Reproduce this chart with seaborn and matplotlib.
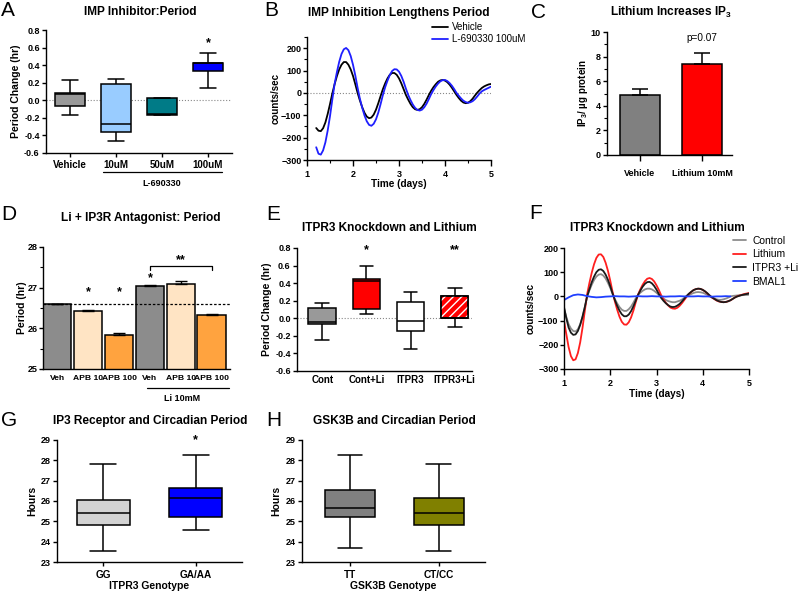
import numpy as np
import pandas as pd
import matplotlib
matplotlib.use('Agg')
import matplotlib.pyplot as plt
from matplotlib.patches import PathPatch
from matplotlib.ticker import MultipleLocator, FormatStrFormatter
import seaborn as sns

# ---------------- data ----------------
# A: IMP inhibitor, period change box plots (whisker low, Q1, median, Q3, whisker high)
a_groups = ['Vehicle', '10uM', '50uM', '100uM']
a_lo = [-0.17, -0.46, -0.17, 0.14]
a_q1 = [-0.07, -0.36, -0.17, 0.33]
a_med = [0.07, -0.27, -0.16, 0.42]
a_q3 = [0.08, 0.19, 0.03, 0.43]
a_hi = [0.23, 0.24, 0.03, 0.54]
a_colors = ['#999999', '#99ccff', '#007b87', '#0000ff']

# B: bioluminescence traces
b_time = [1.20, 1.25, 1.30, 1.35, 1.40, 1.45, 1.50, 1.55, 1.60, 1.65,
          1.70, 1.75, 1.80, 1.85, 1.90, 1.95, 2.00, 2.05, 2.10, 2.15,
          2.20, 2.25, 2.30, 2.35, 2.40, 2.45, 2.50, 2.55, 2.60, 2.65,
          2.70, 2.75, 2.80, 2.85, 2.90, 2.95, 3.00, 3.05, 3.10, 3.15,
          3.20, 3.25, 3.30, 3.35, 3.40, 3.45, 3.50, 3.55, 3.60, 3.65,
          3.70, 3.75, 3.80, 3.85, 3.90, 3.95, 4.00, 4.05, 4.10, 4.15,
          4.20, 4.25, 4.30, 4.35, 4.40, 4.45, 4.50, 4.55, 4.60, 4.65,
          4.70, 4.75, 4.80, 4.85, 4.90, 4.95, 5.00]
b_vehicle = [-157, -169, -171, -158, -132, -94, -50, -3, 39, 75,
             105, 126, 138, 138, 126, 105, 76, 39, 0, -34,
             -64, -89, -106, -113, -110, -97, -75, -46, -14, 17,
             43, 65, 81, 89, 89, 81, 65, 43, 17, -9,
             -30, -49, -64, -73, -76, -73, -64, -49, -30, -9,
             10, 26, 39, 50, 56, 58, 55, 48, 37, 23,
             7, -9, -23, -35, -43, -46, -44, -37, -26, -12,
             1, 12, 22, 29, 34, 38, 40]
b_l690330 = [-243, -272, -276, -257, -221, -168, -104, -30, 40, 93,
             139, 174, 195, 201, 191, 165, 126, 78, 23, -26,
             -66, -101, -127, -143, -147, -138, -118, -88, -50, -9,
             26, 55, 80, 98, 106, 105, 95, 76, 50, 19,
             -9, -32, -52, -67, -76, -79, -75, -64, -48, -27,
             -5, 13, 29, 42, 52, 57, 58, 53, 44, 32,
             17, 0, -13, -25, -35, -41, -44, -42, -37, -28,
             -16, -3, 7, 13, 18, 23, 28]

# C: IP3 levels
c_groups = ['Vehicle', 'Lithium 10mM']
c_vals = [4.84, 7.39]
c_err = [0.51, 0.90]
c_colors = ['#808080', '#ff0000']

# D: Li + IP3R antagonist, period
d_groups = ['Veh', 'APB 10', 'APB 100', 'Li Veh', 'Li APB 10', 'Li APB 100']
d_ticklabels = ['Veh', 'APB 10', 'APB 100', 'Veh', 'APB 10', 'APB 100']
d_vals = [26.60, 26.43, 25.83, 27.03, 27.10, 26.33]
d_err = [0.0, 0.03, 0.06, 0.03, 0.06, 0.03]
d_colors = ['#8c8c8c', '#ffe4c4', '#ffa33f', '#8c8c8c', '#ffe4c4', '#ffa33f']
d_baseline = 26.6

# E: ITPR3 knockdown and lithium, period change
e_groups = ['Cont', 'Cont+Li', 'ITPR3', 'ITPR3+Li']
e_lo = [-0.25, 0.05, -0.35, -0.10]
e_q1 = [-0.07, 0.10, -0.15, 0.00]
e_med = [-0.04, 0.42, -0.03, 0.005]
e_q3 = [0.12, 0.45, 0.18, 0.25]
e_hi = [0.17, 0.60, 0.30, 0.35]
e_colors = ['#999999', '#ff0000', '#ffffff', '#ff0000']

# F: traces
f_time = [1.00, 1.05, 1.10, 1.15, 1.20, 1.25, 1.30, 1.35, 1.40, 1.45,
          1.50, 1.55, 1.60, 1.65, 1.70, 1.75, 1.80, 1.85, 1.90, 1.95,
          2.00, 2.05, 2.10, 2.15, 2.20, 2.25, 2.30, 2.35, 2.40, 2.45,
          2.50, 2.55, 2.60, 2.65, 2.70, 2.75, 2.80, 2.85, 2.90, 2.95,
          3.00, 3.05, 3.10, 3.15, 3.20, 3.25, 3.30, 3.35, 3.40, 3.45,
          3.50, 3.55, 3.60, 3.65, 3.70, 3.75, 3.80, 3.85, 3.90, 3.95,
          4.00, 4.05, 4.10, 4.15, 4.20, 4.25, 4.30, 4.35, 4.40, 4.45,
          4.50, 4.55, 4.60, 4.65, 4.70, 4.75, 4.80, 4.85, 4.90, 4.95,
          5.00]
f_control = [-50, -85, -115, -133, -143, -145, -136, -115, -85, -45,
             0, 25, 48, 68, 82, 90, 92, 86, 74, 56,
             35, 10, -11, -29, -44, -55, -60, -60, -53, -42,
             -26, -8, 6, 15, 23, 29, 32, 32, 29, 23,
             15, 6, -3, -9, -15, -19, -22, -24, -24, -21,
             -18, -13, -6, 0, 5, 10, 14, 17, 18, 17,
             15, 11, 6, 1, -4, -8, -12, -14, -14, -12,
             -9, -5, 0, 2, 3, 4, 5, 5, 6, 6,
             7]
f_lithium = [-100, -156, -210, -247, -264, -260, -234, -190, -130, -60,
             9, 56, 98, 133, 159, 173, 174, 163, 139, 106,
             65, 19, -21, -55, -84, -105, -116, -117, -107, -87,
             -59, -25, 7, 29, 48, 63, 73, 76, 72, 62,
             46, 27, 5, -12, -26, -37, -46, -50, -51, -47,
             -39, -28, -15, -2, 10, 18, 26, 30, 32, 31,
             27, 20, 12, 2, -5, -11, -17, -21, -23, -24,
             -23, -20, -16, -10, -4, 1, 4, 7, 10, 12,
             14]
f_itpr3_li = [-44, -90, -129, -150, -159, -157, -143, -118, -84, -44,
              0, 30, 59, 82, 100, 110, 112, 105, 90, 69,
              42, 12, -15, -39, -59, -74, -82, -82, -75, -61,
              -41, -18, 6, 24, 40, 52, 59, 60, 54, 43,
              28, 10, -6, -18, -28, -36, -42, -44, -43, -38,
              -31, -21, -10, 2, 11, 19, 26, 30, 32, 31,
              27, 21, 13, 4, -4, -10, -16, -20, -23, -24,
              -23, -20, -16, -10, -4, 0, 3, 6, 8, 10,
              12]
f_bmal_time = [1.0, 1.1, 1.2, 1.3, 1.4, 1.5, 1.6, 1.7, 1.8, 1.9, 2.0, 2.1, 2.2,
               2.3, 2.4, 2.5, 2.6, 2.7, 2.8, 2.9, 3.0, 3.1, 3.2, 3.3, 3.4, 3.5,
               3.6, 3.7, 3.8, 3.9, 4.0, 4.1, 4.2, 4.3, 4.4, 4.5, 4.6]
f_bmal1 = [-15, -4, 5, 8, 6, 1, -2, -4, -3, -1, 0, 1, 0,
           0, -1, 0, 1, 0, 0, 1, 0, 0, -1, 0, 0, 1,
           0, 0, 0, 1, 0, 0, -1, 0, 0, 1, 0]

# G: ITPR3 genotype
g_groups = ['GG', 'GA/AA']
g_lo = [23.55, 24.55]
g_q1 = [24.80, 25.20]
g_med = [25.40, 26.15]
g_q3 = [26.07, 26.62]
g_hi = [27.80, 28.25]
g_colors = ['#d3d3d3', '#0000ff']

# H: GSK3B genotype
h_groups = ['TT', 'CT/CC']
h_lo = [23.70, 23.55]
h_q1 = [25.22, 24.82]
h_med = [25.65, 25.41]
h_q3 = [26.55, 26.15]
h_hi = [28.25, 27.82]
h_colors = ['#808080', '#808000']

# ---------------- style ----------------
sns.set_style('ticks')
plt.rcParams['font.family'] = ['Liberation Sans', 'DejaVu Sans']
plt.rcParams['font.weight'] = 'bold'
plt.rcParams['axes.labelweight'] = 'bold'
plt.rcParams['mathtext.fontset'] = 'custom'
plt.rcParams['mathtext.rm'] = 'Liberation Sans:bold'
plt.rcParams['mathtext.it'] = 'Liberation Sans:bold'
plt.rcParams['mathtext.bf'] = 'Liberation Sans:bold'
for key in ['text.color', 'axes.labelcolor', 'xtick.color', 'ytick.color', 'axes.edgecolor']:
    plt.rcParams[key] = 'black'
plt.rcParams['axes.linewidth'] = 1.0

W, H = 800, 592
TITLE = 8.6
fig = plt.figure(figsize=(8, 5.92), dpi=100)


def panel(l, t, r, b):
    ax = fig.add_axes([l / W, 1 - b / H, (r - l) / W, (b - t) / H])
    sns.despine(ax=ax)
    ax.tick_params(labelsize=6.5, length=3, width=1, pad=1.5)
    ax.tick_params(which='minor', length=2, width=0.8)
    return ax


def text(x, y, s, size=8, ha='center', weight='bold'):
    fig.text(x / W, 1 - y / H, s, ha=ha, va='center', fontsize=size, fontweight=weight)


def long_form(groups, *cols):
    rows = [(g, col[i]) for i, g in enumerate(groups) for col in cols]
    return pd.DataFrame(rows, columns=['group', 'value'])


def boxes(ax, groups, stats, colors, width):
    df = long_form(groups, *stats)
    sns.boxplot(data=df, x='group', y='value', hue='group', palette=colors,
                legend=False, whis=(0, 100), width=width, linecolor='black',
                linewidth=1.1, saturation=1, ax=ax)
    ax.set_xlabel('')


# panel letters
for ch, x, y in [('A', 1, 11), ('B', 264, 11), ('C', 531, 12), ('D', 1, 215),
                 ('E', 266, 215), ('F', 529, 213), ('G', 1, 421), ('H', 266, 421)]:
    text(x, y, ch, size=15, ha='left', weight='normal')

# ---------------- A ----------------
ax = panel(46, 30, 232, 153)
boxes(ax, a_groups, [a_lo, a_q1, a_med, a_q3, a_hi], a_colors, 0.67)
ax.axhline(0, color='#888888', ls=':', lw=0.8, zorder=0)
ax.set_ylim(-0.6, 0.8)
ax.set_xlim(-0.52, 3.52)
ax.yaxis.set_major_locator(MultipleLocator(0.2))
ax.yaxis.set_major_formatter(FormatStrFormatter('%.1f'))
ax.tick_params(axis='x', labelsize=7, pad=2)
ax.set_ylabel('Period Change (hr)', fontsize=7.5)
ax.yaxis.set_label_coords(-0.132, 0.5)
ax.text(3, 0.65, '*', ha='center', va='center', fontsize=9)
ax.plot([0.72, 3.31], [-0.154, -0.154], color='black', lw=0.9,
        transform=ax.get_xaxis_transform(), clip_on=False)
ax.text(2.0, -0.244, 'L-690330', ha='center', va='center', fontsize=6.5,
        transform=ax.get_xaxis_transform())
text(140, 12, 'IMP Inhibitor:Period', size=TITLE)

# ---------------- B ----------------
ax = panel(307, 37, 491, 160)
sns.lineplot(x=b_time, y=b_vehicle, color='black', lw=1.3, ax=ax, label='Vehicle')
sns.lineplot(x=b_time, y=b_l690330, color='#1f1fff', lw=1.3, ax=ax, label='L-690330 100uM')
ax.axhline(0, color='#888888', ls=':', lw=0.8, zorder=0)
ax.set_xlim(1, 5)
ax.set_ylim(-300, 250)
ax.set_xticks([1, 2, 3, 4, 5])
ax.set_yticks([-300, -200, -100, 0, 100, 200])
ax.xaxis.set_minor_locator(MultipleLocator(0.5))
ax.yaxis.set_minor_locator(MultipleLocator(50))
ax.tick_params(axis='x', length=4, pad=3)
ax.tick_params(axis='y', pad=1)
ax.set_xlabel('Time (days)', fontsize=7.2)
ax.xaxis.set_label_coords(0.5, -0.154)
ax.set_ylabel('counts/sec', fontsize=7)
ax.yaxis.set_label_coords(-0.145, 0.5)
ax.legend(loc='upper left', bbox_to_anchor=(0.68, 1.12), frameon=False,
          prop={'size': 7, 'weight': 'normal'}, handlelength=1.6,
          handletextpad=0.4, borderpad=0, borderaxespad=0, labelspacing=0.2)
text(399, 13, 'IMP Inhibition Lengthens Period', size=TITLE)

# ---------------- C ----------------
ax = panel(607, 32, 732, 155)
sns.barplot(x=c_groups, y=c_vals, hue=c_groups, palette=c_colors, legend=False,
            width=0.65, edgecolor='black', linewidth=1.1, saturation=1, ax=ax)
ax.errorbar(range(len(c_groups)), c_vals, yerr=[[0] * len(c_err), c_err],
            fmt='none', ecolor='black', elinewidth=1.1, capsize=6, capthick=1.1)
ax.set_ylim(0, 10)
ax.set_xlim(-0.53, 1.48)
ax.yaxis.set_major_locator(MultipleLocator(2))
ax.yaxis.set_minor_locator(MultipleLocator(1))
ax.tick_params(axis='x', labelsize=6.5, length=4, pad=6)
ax.set_ylabel('IP$_3$/ µg protein', fontsize=7)
ax.yaxis.set_label_coords(-0.14, 0.5)
ax.text(1, 9.55, 'p=0.07', ha='center', va='center', fontsize=7.2, fontweight='normal')
text(671, 12, 'Lithium Increases IP$_3$', size=TITLE)

# ---------------- D ----------------
ax = panel(43, 247, 230, 369)
sns.barplot(x=d_groups, y=d_vals, hue=d_groups, palette=d_colors, legend=False,
            width=0.91, edgecolor='black', linewidth=1.1, saturation=1, ax=ax)
ax.errorbar(range(len(d_groups)), d_vals, yerr=[[0] * len(d_err), d_err],
            fmt='none', ecolor='black', elinewidth=1.0, capsize=4, capthick=1.0)
ax.axhline(d_baseline, color='black', ls=(0, (2, 1.5)), lw=0.9, zorder=5)
ax.set_ylim(25, 28)
ax.set_xlim(-0.47, 5.6)
ax.yaxis.set_major_locator(MultipleLocator(1))
ax.yaxis.set_minor_locator(MultipleLocator(0.5))
ax.set_xticks(range(len(d_groups)))
ax.set_xticklabels(d_ticklabels)
ax.tick_params(axis='x', labelsize=6.1, length=0, pad=4)
ax.tick_params(axis='y', pad=1)
ax.set_ylabel('Period (hr)', fontsize=7.5)
ax.yaxis.set_label_coords(-0.088, 0.5)
for i in [1, 2]:
    ax.text(i, 26.9, '*', ha='center', va='center', fontsize=9)
ax.text(3, 27.24, '*', ha='center', va='center', fontsize=9)
ax.plot([3, 3, 5, 5], [27.43, 27.53, 27.53, 27.43], color='black', lw=0.9, clip_on=False)
ax.text(4, 27.68, '**', ha='center', va='center', fontsize=9)
ax.plot([2.91, 5.57], [-0.156, -0.156], color='black', lw=0.9,
        transform=ax.get_xaxis_transform(), clip_on=False)
ax.text(4.04, -0.24, 'Li 10mM', ha='center', va='center', fontsize=6.5,
        transform=ax.get_xaxis_transform())
text(141, 218, 'Li + IP3R Antagonist: Period', size=TITLE)

# ---------------- E ----------------
ax = panel(297, 248, 472, 371)
boxes(ax, e_groups, [e_lo, e_q1, e_med, e_q3, e_hi], e_colors, 0.62)
box = [p for p in ax.patches if isinstance(p, PathPatch)][3]
ax.add_patch(PathPatch(box.get_path(), transform=box.get_transform(),
                       facecolor='none', edgecolor='white', hatch='////', lw=0,
                       zorder=box.get_zorder() + 0.01))
ax.add_patch(PathPatch(box.get_path(), transform=box.get_transform(),
                       facecolor='none', edgecolor='black', lw=1.1,
                       zorder=box.get_zorder() + 0.02))
ax.axhline(0, color='#888888', ls=':', lw=0.8, zorder=0)
ax.set_ylim(-0.6, 0.8)
ax.set_xlim(-0.57, 3.39)
ax.yaxis.set_major_locator(MultipleLocator(0.2))
ax.yaxis.set_major_formatter(FormatStrFormatter('%.1f'))
ax.tick_params(axis='x', labelsize=7, length=0, pad=3)
ax.set_ylabel('Period Change (hr)', fontsize=7.5)
ax.yaxis.set_label_coords(-0.14, 0.5)
ax.text(1, 0.77, '*', ha='center', va='center', fontsize=9)
ax.text(3, 0.77, '**', ha='center', va='center', fontsize=9)
text(389, 228, 'ITPR3 Knockdown and Lithium', size=TITLE)

# ---------------- F ----------------
ax = panel(564, 248, 749, 369)
sns.lineplot(x=f_time, y=f_control, color='#8c8c8c', lw=1.3, ax=ax, label='Control')
sns.lineplot(x=f_time, y=f_lithium, color='#ff1f1f', lw=1.3, ax=ax, label='Lithium')
sns.lineplot(x=f_time, y=f_itpr3_li, color='#1a1a1a', lw=1.3, ax=ax, label='ITPR3 +Li')
sns.lineplot(x=f_bmal_time, y=f_bmal1, color='#1f3fff', lw=1.3, ax=ax, label='BMAL1')
ax.set_xlim(1, 5)
ax.set_ylim(-300, 200)
ax.set_xticks([1, 2, 3, 4, 5])
ax.set_yticks([-300, -200, -100, 0, 100, 200])
ax.tick_params(axis='x', length=4, pad=3)
ax.tick_params(axis='y', pad=1)
ax.set_xlabel('Time (days)', fontsize=7.2)
ax.xaxis.set_label_coords(0.5, -0.165)
ax.set_ylabel('counts/sec', fontsize=7)
ax.yaxis.set_label_coords(-0.155, 0.5)
ax.legend(loc='upper left', bbox_to_anchor=(0.915, 1.1), frameon=False,
          prop={'size': 7.4, 'weight': 'normal'}, handlelength=1.25,
          handletextpad=0.6, borderpad=0, borderaxespad=0, labelspacing=0.35)
text(657, 228, 'ITPR3 Knockdown and Lithium', size=TITLE)

# ---------------- G ----------------
ax = panel(57, 440, 242, 562)
boxes(ax, g_groups, [g_lo, g_q1, g_med, g_q3, g_hi], g_colors, 0.57)
ax.set_ylim(23, 29)
ax.set_xlim(-0.5, 1.5)
ax.tick_params(axis='x', labelsize=7.2, pad=2.5)
ax.set_xlabel('ITPR3 Genotype', fontsize=7.5)
ax.xaxis.set_label_coords(0.5, -0.156)
ax.set_ylabel('Hours', fontsize=7.5)
ax.yaxis.set_label_coords(-0.105, 0.5)
ax.text(1, 29.0, '*', ha='center', va='center', fontsize=9, clip_on=False)
text(150, 421, 'IP3 Receptor and Circadian Period', size=TITLE)

# ---------------- H ----------------
ax = panel(302, 440, 485, 562)
boxes(ax, h_groups, [h_lo, h_q1, h_med, h_q3, h_hi], h_colors, 0.56)
ax.set_ylim(23, 29)
ax.set_xlim(-0.54, 1.52)
ax.tick_params(axis='x', labelsize=7.2, pad=2.5)
ax.set_xlabel('GSK3B Genotype', fontsize=7.5)
ax.xaxis.set_label_coords(0.5, -0.156)
ax.set_ylabel('Hours', fontsize=7.5)
ax.yaxis.set_label_coords(-0.112, 0.5)
text(394, 421, 'GSK3B and Circadian Period', size=TITLE)

fig.savefig('out.png', dpi=100)
